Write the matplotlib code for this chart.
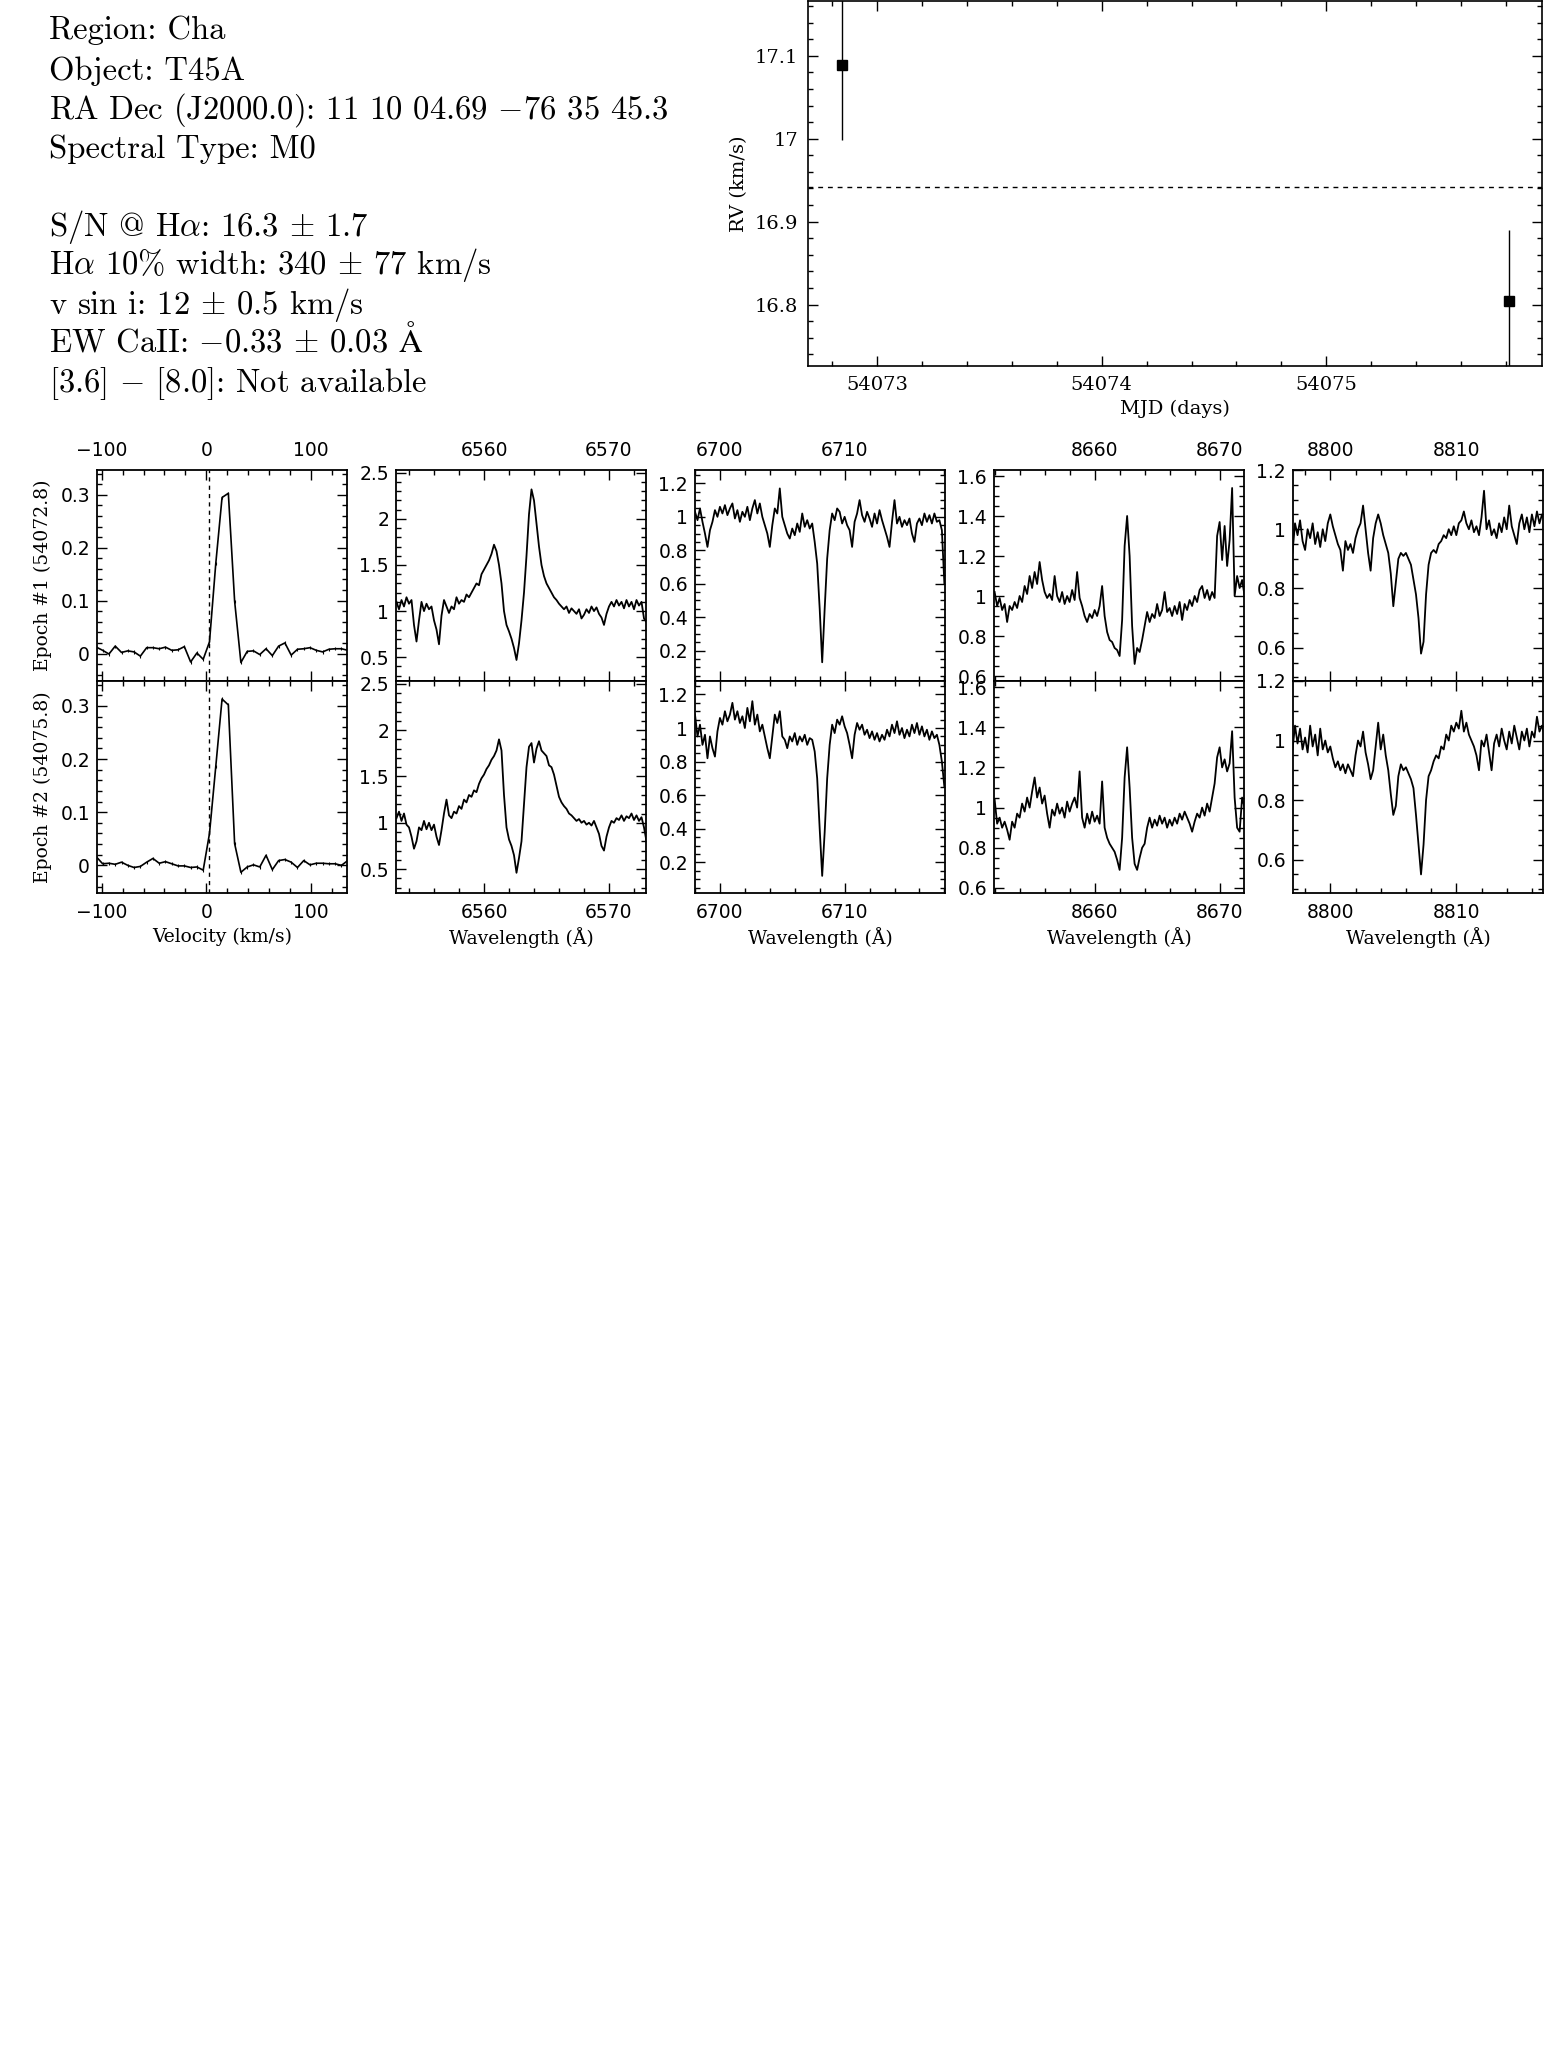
import numpy as np
import matplotlib
matplotlib.use("Agg")
import matplotlib.pyplot as plt
from matplotlib.ticker import MultipleLocator, FuncFormatter

plt.rcParams['mathtext.fontset'] = 'cm'
plt.rcParams['font.family'] = ['DejaVu Sans']

# ---------------- data ----------------
info_lines = [
    "Region: Cha",
    "Object: T45A",
    "RA Dec (J2000.0): 11 10 04.69 $-$76 35 45.3",
    "Spectral Type: M0",
    "S/N @ H$\\alpha$: 16.3 $\\pm$ 1.7",
    "H$\\alpha$ 10% width: 340 $\\pm$ 77 km/s",
    "v sin i: 12 $\\pm$ 0.5 km/s",
    "EW CaII: $-$0.33 $\\pm$ 0.03 $\\mathrm{\\AA}$",
    "[3.6] $-$ [8.0]: Not available",
]

rv_mjd = [54072.843, 54075.813]
rv_val = [17.089, 16.804]
rv_err = [0.090, 0.086]
rv_mean = 16.942

epoch_labels = ["Epoch #1 (54072.8)", "Epoch #2 (54075.8)"]

ccf_vel = [-105, -99, -93, -87, -81, -75, -69, -63, -57, -51,
           -45, -39, -33, -27, -21, -15, -9, -3, 3, 9,
           15, 21, 27, 33, 39, 45, 51, 57, 63, 69,
           75, 81, 87, 93, 99, 105, 111, 117, 123, 129, 135]
ccf_ep1 = [0.012, 0.006, -0.001, 0.014, 0.002, 0.005, 0.003, -0.005, 0.011, 0.011,
           0.009, 0.012, 0.006, 0.007, 0.013, -0.016, 0.001, -0.011, 0.022, 0.170,
           0.295, 0.303, 0.099, -0.017, 0.004, 0.005, -0.002, 0.009, -0.004, 0.014,
           0.020, -0.003, 0.008, 0.009, 0.011, 0.006, 0.003, 0.008, 0.009, 0.009, 0.006]
ccf_ep2 = [0.016, 0.003, 0.004, 0.002, 0.006, 0.000, -0.004, -0.002, 0.006, 0.013,
           0.004, 0.007, 0.003, -0.001, -0.001, -0.004, -0.003, -0.009, 0.060, 0.186,
           0.313, 0.302, 0.041, -0.013, -0.003, 0.001, -0.003, 0.019, -0.008, 0.009,
           0.011, 0.006, -0.004, 0.009, 0.001, 0.004, 0.004, 0.003, 0.003, 0.000, 0.009]
ccf_err = 0.003
ccf_center = 3.0

spec_step = 0.2

ha_start = 6553.0
ha_ep1 = [1.10, 1.02, 1.12, 1.05, 1.15, 1.08, 1.12, 0.85, 0.67, 0.90,
          1.10, 1.00, 1.08, 1.02, 1.05, 0.90, 0.80, 0.64, 0.95, 1.12,
          1.05, 0.98, 1.05, 1.02, 1.15, 1.08, 1.12, 1.10, 1.18, 1.15,
          1.20, 1.25, 1.30, 1.28, 1.40, 1.45, 1.50, 1.55, 1.62, 1.72,
          1.65, 1.50, 1.30, 1.00, 0.85, 0.78, 0.70, 0.60, 0.47, 0.65,
          0.90, 1.20, 1.60, 2.05, 2.32, 2.20, 1.95, 1.70, 1.50, 1.38,
          1.30, 1.25, 1.20, 1.15, 1.12, 1.08, 1.05, 1.02, 1.05, 0.98,
          1.03, 1.00, 0.97, 1.02, 0.92, 0.96, 1.02, 0.98, 1.05, 1.00,
          1.04, 0.97, 0.93, 0.85, 0.97, 1.05, 1.10, 1.05, 1.12, 1.06,
          1.10, 1.03, 1.12, 1.05, 1.10, 1.02, 1.12, 1.06, 1.10, 0.92,
          0.88]
ha_ep2 = [1.05, 1.12, 1.02, 1.10, 0.98, 0.95, 0.85, 0.72, 0.80, 0.95,
          0.92, 1.02, 0.93, 1.00, 0.92, 0.98, 0.85, 0.76, 0.92, 1.10,
          1.25, 1.08, 1.05, 1.12, 1.10, 1.18, 1.15, 1.25, 1.22, 1.30,
          1.28, 1.35, 1.33, 1.42, 1.48, 1.52, 1.58, 1.62, 1.68, 1.72,
          1.78, 1.90, 1.78, 1.30, 0.95, 0.82, 0.75, 0.65, 0.46, 0.62,
          0.80, 1.20, 1.60, 1.82, 1.86, 1.65, 1.80, 1.88, 1.78, 1.75,
          1.72, 1.62, 1.60, 1.52, 1.40, 1.28, 1.22, 1.18, 1.15, 1.10,
          1.08, 1.05, 1.02, 1.04, 1.00, 1.02, 0.98, 1.00, 0.97, 1.02,
          0.95, 0.88, 0.75, 0.70, 0.85, 0.95, 1.02, 1.00, 1.05, 1.03,
          1.08, 1.02, 1.07, 1.05, 1.10, 1.03, 1.08, 1.02, 1.06, 0.95,
          0.80]

li_start = 6698.0
li_ep1 = [1.03, 0.98, 1.05, 0.97, 0.90, 0.82, 0.92, 0.97, 1.04, 1.00,
          1.06, 1.02, 1.07, 1.01, 1.05, 1.08, 0.99, 1.04, 0.97, 1.03,
          1.00, 1.06, 0.98, 1.05, 1.10, 1.02, 1.08, 1.00, 0.95, 0.90,
          0.82, 0.95, 1.05, 1.02, 1.17, 1.00, 0.95, 0.90, 0.87, 0.93,
          0.89, 0.96, 0.91, 1.02, 0.94, 0.98, 0.93, 0.96, 0.85, 0.72,
          0.45, 0.13, 0.45, 0.75, 0.92, 1.02, 0.98, 1.05, 1.03, 0.96,
          1.00, 0.95, 0.92, 0.82, 0.97, 1.02, 1.10, 1.01, 0.97, 1.03,
          0.99, 0.94, 1.02, 0.96, 1.04, 0.98, 0.93, 0.88, 0.82, 0.97,
          1.10, 0.96, 1.00, 0.94, 0.98, 0.95, 0.99, 0.90, 0.85, 0.96,
          0.99, 0.95, 1.02, 0.97, 1.01, 0.96, 1.02, 0.97, 0.98, 0.92,
          0.60]
li_ep2 = [1.08, 0.95, 1.02, 0.90, 0.96, 0.82, 0.95, 0.88, 0.83, 0.98,
          1.06, 1.02, 1.10, 1.04, 1.08, 1.15, 1.05, 1.10, 1.03, 1.07,
          1.00, 1.12, 1.04, 1.16, 1.02, 1.08, 0.98, 1.02, 0.95, 0.88,
          0.82, 0.95, 1.08, 1.03, 1.10, 0.95, 0.93, 0.88, 0.95, 0.92,
          0.97, 0.90, 0.95, 0.92, 0.96, 0.90, 0.94, 0.93, 0.86, 0.70,
          0.40, 0.12, 0.38, 0.70, 0.90, 1.02, 0.97, 1.05, 1.02, 1.07,
          1.01, 0.97, 0.90, 0.82, 0.96, 1.03, 0.99, 1.02, 0.96, 0.99,
          0.94, 0.98, 0.93, 0.97, 0.92, 0.96, 0.93, 0.99, 0.95, 1.02,
          0.97, 1.04, 0.96, 1.00, 0.94, 0.99, 0.95, 1.02, 0.97, 1.03,
          0.96, 1.01, 0.95, 0.99, 0.93, 0.98, 0.94, 0.96, 0.90, 0.80,
          0.65]

ca_start = 8652.0
ca_ep1 = [1.02, 0.95, 0.99, 0.93, 0.96, 0.87, 0.95, 0.93, 0.97, 0.94,
          1.00, 0.97, 1.05, 1.01, 1.10, 1.04, 1.12, 1.06, 1.17, 1.08,
          1.02, 0.99, 1.01, 0.98, 1.10, 1.00, 0.97, 1.02, 0.96, 1.00,
          0.97, 1.03, 0.98, 1.12, 0.99, 0.95, 0.90, 0.87, 0.91, 0.89,
          0.93, 0.90, 0.95, 1.05, 0.90, 0.82, 0.78, 0.77, 0.74, 0.73,
          0.70, 0.88, 1.25, 1.40, 1.20, 0.85, 0.66, 0.74, 0.72, 0.78,
          0.85, 0.92, 0.87, 0.91, 0.89, 0.96, 0.90, 0.93, 1.02, 0.92,
          0.94, 0.90, 0.95, 0.91, 0.97, 0.88, 0.96, 0.93, 0.98, 0.95,
          1.00, 0.97, 1.03, 1.05, 0.99, 1.03, 0.98, 1.02, 0.99, 1.30,
          1.37, 1.18, 1.35, 1.15, 1.28, 1.54, 1.00, 1.10, 1.04, 1.08,
          1.00]
ca_ep2 = [1.04, 0.92, 0.95, 0.90, 0.93, 0.89, 0.84, 0.93, 0.90, 0.97,
          0.95, 1.02, 0.98, 1.05, 1.00, 1.08, 1.15, 1.05, 1.10, 1.02,
          1.06, 0.97, 0.90, 0.99, 0.96, 1.02, 0.97, 1.00, 0.95, 1.03,
          0.98, 1.02, 1.05, 1.00, 1.18, 0.95, 0.90, 0.97, 0.92, 0.98,
          0.93, 0.96, 0.92, 1.13, 0.90, 0.85, 0.82, 0.80, 0.78, 0.74,
          0.69, 0.85, 1.15, 1.30, 1.10, 0.85, 0.72, 0.69, 0.75, 0.80,
          0.82, 0.90, 0.95, 0.90, 0.94, 0.91, 0.96, 0.92, 0.95, 0.90,
          0.94, 0.91, 0.95, 0.92, 0.97, 0.94, 0.98, 0.95, 0.92, 0.88,
          0.93, 0.97, 0.95, 1.00, 0.96, 1.02, 0.98, 1.05, 1.12, 1.25,
          1.30, 1.20, 1.24, 1.18, 1.22, 1.38, 1.05, 0.90, 0.88, 1.05,
          1.00]

mg_start = 8797.0
mg_ep1 = [0.92, 1.02, 0.98, 1.03, 0.96, 0.93, 1.00, 0.97, 1.02, 0.95,
          0.99, 0.94, 1.00, 0.96, 1.02, 1.05, 1.01, 0.98, 0.95, 0.93,
          0.86, 0.96, 0.93, 0.95, 0.92, 0.97, 1.00, 1.02, 1.08, 1.00,
          0.92, 0.86, 0.97, 1.02, 1.05, 1.02, 0.98, 0.95, 0.92, 0.85,
          0.74, 0.82, 0.90, 0.92, 0.91, 0.92, 0.90, 0.88, 0.83, 0.78,
          0.70, 0.58, 0.62, 0.78, 0.88, 0.92, 0.93, 0.92, 0.95, 0.96,
          0.98, 0.97, 1.00, 0.98, 1.01, 0.98, 1.02, 1.03, 1.06, 1.02,
          1.00, 1.03, 0.99, 1.01, 0.98, 1.04, 1.13, 1.00, 1.03, 0.98,
          1.00, 0.97, 1.02, 0.99, 1.04, 1.00, 1.08, 1.01, 0.98, 0.95,
          1.02, 1.05, 1.00, 1.04, 0.99, 1.05, 1.01, 1.06, 1.02, 1.05,
          1.03]
mg_ep2 = [0.97, 1.05, 0.99, 1.04, 0.97, 1.01, 0.96, 1.05, 0.98, 1.02,
          0.95, 1.04, 0.97, 1.00, 0.96, 0.98, 0.94, 0.91, 0.93, 0.90,
          0.92, 0.89, 0.92, 0.90, 0.88, 0.95, 1.00, 0.98, 1.03, 0.96,
          0.92, 0.87, 0.90, 0.98, 1.06, 0.97, 1.02, 0.95, 0.90, 0.82,
          0.75, 0.78, 0.88, 0.92, 0.90, 0.91, 0.89, 0.87, 0.84, 0.75,
          0.65, 0.55, 0.65, 0.80, 0.88, 0.90, 0.93, 0.95, 0.94, 0.98,
          0.97, 1.02, 1.00, 1.05, 1.03, 1.06, 1.04, 1.10, 1.03, 1.06,
          1.02, 1.00, 0.98, 0.95, 0.90, 1.00, 0.98, 1.02, 0.96, 0.90,
          0.99, 1.02, 0.98, 1.04, 1.00, 0.97, 1.03, 0.99, 1.05, 1.01,
          0.97, 1.03, 1.00, 1.04, 0.98, 1.03, 1.01, 1.08, 1.03, 1.05,
          1.02]

# ---------------- figure ----------------
W, H = 1547, 2069
fig = plt.figure(figsize=(W / 100, H / 100), dpi=100)


def gfmt(v, pos):
    return ('%g' % round(v, 6)).replace('-', '\u2212')


# info text block
baselines = [39, 80, 119, 158, 236, 274, 314, 352, 392]
for s, yb in zip(info_lines, baselines):
    fig.text(49 / W, 1 - yb / H, s, family='cmr10', fontsize=23.5,
             va='baseline', ha='left')

# RV panel
axr = fig.add_axes([808 / W, 1 - 366 / H, 734 / W, 365 / H])
axr.errorbar(rv_mjd, rv_val, yerr=rv_err, fmt='s', color='k', ms=6.5,
             elinewidth=1.0, capsize=0)
axr.axhline(rv_mean, color='k', lw=1.0, ls=(0, (3.5, 3.5)))
axr.set_xlim(54072.693, 54075.96)
axr.set_ylim(16.726, 17.166)
axr.xaxis.set_major_locator(MultipleLocator(1))
axr.xaxis.set_minor_locator(MultipleLocator(0.2))
axr.yaxis.set_major_locator(MultipleLocator(0.1))
axr.yaxis.set_minor_locator(MultipleLocator(0.02))
axr.xaxis.set_major_formatter(FuncFormatter(gfmt))
axr.yaxis.set_major_formatter(FuncFormatter(gfmt))
axr.tick_params(which='both', direction='in', top=True, right=True, width=1.0,
                labelsize=14, labelfontfamily='DejaVu Serif', pad=7)
axr.tick_params(which='major', length=7)
axr.tick_params(which='minor', length=3.5)
for sp in axr.spines.values():
    sp.set_linewidth(1.2)
axr.set_xlabel("MJD (days)", family='DejaVu Serif', fontsize=14, labelpad=4)
axr.set_ylabel("RV (km/s)", family='DejaVu Serif', fontsize=14, labelpad=5)

# lower panels
lefts = [97, 396, 695, 994, 1293]
pw = 250
rows = [(470, 681), (681, 893)]


def setup(ax, xlim, ylim, xmaj, xmin, ymaj, ymin, top_lab, bot_lab):
    ax.set_xlim(*xlim)
    ax.set_ylim(*ylim)
    ax.xaxis.set_major_locator(MultipleLocator(xmaj))
    ax.xaxis.set_minor_locator(MultipleLocator(xmin))
    ax.yaxis.set_major_locator(MultipleLocator(ymaj))
    ax.yaxis.set_minor_locator(MultipleLocator(ymin))
    ax.xaxis.set_major_formatter(FuncFormatter(gfmt))
    ax.yaxis.set_major_formatter(FuncFormatter(gfmt))
    ax.tick_params(which='both', direction='in', top=True, right=True,
                   width=1.0, labelsize=13.5, labeltop=top_lab,
                   labelbottom=bot_lab)
    ax.tick_params(axis='x', pad=7)
    ax.tick_params(axis='y', pad=5)
    ax.tick_params(which='major', length=7)
    ax.tick_params(which='minor', length=3.5)
    for sp in ax.spines.values():
        sp.set_linewidth(1.3)


panels = [
    ((ha_start, ha_ep1, ha_ep2), (6552.96, 6572.96), (0.242, 2.53), 0.5, 0.1),
    ((li_start, li_ep1, li_ep2), (6698.0, 6718.05), (0.018, 1.28), 0.2, 0.05),
    ((ca_start, ca_ep1, ca_ep2), (8651.95, 8671.95), (0.575, 1.63), 0.2, 0.05),
    ((mg_start, mg_ep1, mg_ep2), (8797.04, 8816.88), (0.4876, 1.2), 0.2, 0.05),
]

for r, (ytop, ybot) in enumerate(rows):
    rect_h = (ybot - ytop) / H
    rect_b = 1 - ybot / H
    top_lab = (r == 0)
    bot_lab = (r == 1)
    # CCF panel
    ax = fig.add_axes([lefts[0] / W, rect_b, pw / W, rect_h])
    ccf = ccf_ep1 if r == 0 else ccf_ep2
    ax.errorbar(ccf_vel, ccf, yerr=ccf_err, color='k', lw=1.2,
                elinewidth=0.8, capsize=0)
    ax.axvline(ccf_center, color='k', lw=1.0, ls=(0, (3, 3)))
    setup(ax, (-104.4, 134.3), (-0.052, 0.347), 100, 20, 0.1, 0.02,
          top_lab, bot_lab)
    ax.set_ylabel(epoch_labels[r], family='DejaVu Serif', fontsize=13.5,
                  labelpad=6)
    if bot_lab:
        ax.set_xlabel("Velocity (km/s)", family='DejaVu Serif', fontsize=13.5,
                      labelpad=4)
    # spectral panels
    for k, (spec, xl, yl, ymaj, ymin) in enumerate(panels):
        start, e1, e2 = spec
        flux = e1 if r == 0 else e2
        wl = start + spec_step * np.arange(len(flux))
        ax = fig.add_axes([lefts[k + 1] / W, rect_b, pw / W, rect_h])
        ax.plot(wl, flux, color='k', lw=1.3)
        setup(ax, xl, yl, 10, 2, ymaj, ymin, top_lab, bot_lab)
        if bot_lab:
            ax.set_xlabel("Wavelength (\u00c5)", family='DejaVu Serif',
                          fontsize=13.5, labelpad=4)

fig.savefig("out.png", dpi=100)
